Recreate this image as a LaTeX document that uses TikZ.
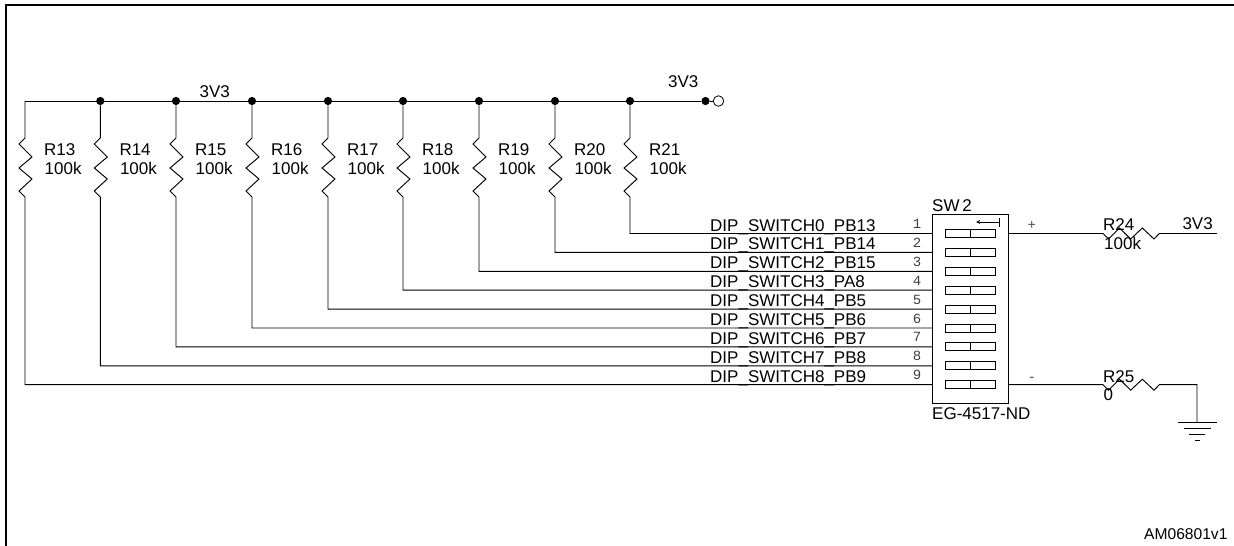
\documentclass[tikz,border=0pt]{standalone}
\usepackage{fontspec}
\setmainfont{Liberation Sans}
\newfontfamily\pinfont{Liberation Mono}
\tikzstyle{wire} = [draw,line width=0.95pt,line join=miter]
\tikzstyle{frameline} = [draw,line width=2pt]
\tikzstyle{junction} = [circle,fill=black,inner sep=0pt,minimum size=8.2pt]
\tikzstyle{openend} = [circle,draw,fill=white,line width=0.8pt,inner sep=0pt,minimum size=10.5pt]
\tikzstyle{label} = [inner sep=0pt,anchor=base west,font=\fontsize{17}{20}\selectfont]
\tikzstyle{pinnum} = [inner sep=0pt,anchor=base,text=black!75,font=\pinfont\fontsize{14}{16}\selectfont]
\tikzstyle{swbody} = [draw,line width=1.1pt,anchor=north west,inner sep=0pt,minimum width=76pt,minimum height=189pt]
\tikzstyle{lever} = [draw,line width=0.9pt]
\begin{document}
\begin{tikzpicture}[x=1pt,y=-1pt]
      \useasboundingbox (0,0) rectangle (1234,546);
      % frame
      \coordinate (fa) at (6,546);
      \coordinate (fb) at (6,5);
      \coordinate (fc) at (1234,5);
      \path[frameline] (fa) -- (fb) -- (fc);
      % switch
      \node[swbody] (sw) at (932,214) {};
      \node[label] (swname) at (932,211.5) {SW\,2};
      \node[label] (swtype) at (932,419) {EG-4517-ND};
      \foreach \pin/\y in {1/233.5, 2/252.4, 3/271.3, 4/290.2, 5/309.1, 6/328, 7/346.9, 8/365.8, 9/384.7}
      {
        \coordinate (pin\pin) at (sw.west |- 0,\y);
        \coordinate (la\pin) at (945,\y-4);
        \coordinate (lb\pin) at (995,\y+4);
        \coordinate (lc\pin) at (970,\y-4);
        \coordinate (ld\pin) at (970,\y+4);
        \path[lever] (la\pin) rectangle (lb\pin);
        \path[lever] (lc\pin) -- (ld\pin);
        \node[pinnum] (num\pin) at (917,\y-5) {\pin};
      };
      \coordinate (ara) at (999.5,222);
      \coordinate (arb) at (976,222);
      \coordinate (arc) at (999.5,218);
      \coordinate (ard) at (999.5,227);
      \path[lever,->,>=stealth] (ara) -- (arb);
      \path[lever] (arc) -- (ard);
      % resistors and bus
      \coordinate (buscorner) at (25,101);
      \node[junction] (j14) at (100.3,101) {};
      \node[junction] (j15) at (176,101) {};
      \node[junction] (j16) at (252,101) {};
      \node[junction] (j17) at (328,101) {};
      \node[junction] (j18) at (403,101) {};
      \node[junction] (j19) at (479,101) {};
      \node[junction] (j20) at (555,101) {};
      \node[junction] (j21) at (630,101) {};
      \node[junction] (jend) at (705.5,101) {};
      \node[openend] (vcc) at (718.5,101) {};
      \path[wire] (buscorner) -- (jend) -- (vcc);
      \node[label] (busname) at (199.5,97.5) {3V3};
      \node[label] (vccname) at (668,87.5) {3V3};
      \foreach \nodename/\x/\start/\pin/\netname in {
        13/25/buscorner/9/DIP\_SWITCH8\_PB9,
        14/100.3/j14/8/DIP\_SWITCH7\_PB8,
        15/176/j15/7/DIP\_SWITCH6\_PB7,
        16/252/j16/6/DIP\_SWITCH5\_PB6,
        17/328/j17/5/DIP\_SWITCH4\_PB5,
        18/403/j18/4/DIP\_SWITCH3\_PA8,
        19/479/j19/3/DIP\_SWITCH2\_PB15,
        20/555/j20/2/DIP\_SWITCH1\_PB14,
        21/630/j21/1/DIP\_SWITCH0\_PB13}
      {
        \coordinate (rt\nodename) at (\x,138);
        \coordinate (rb\nodename) at (\x,197);
        \coordinate (bend\nodename) at (\x,0 |- pin\pin);
        \path[wire] (\start) -- (rt\nodename) -- ++(-6,6) -- ++(13,13) -- ++(-13,11) -- ++(13,11) -- ++(-13,12) -- (rb\nodename) -- (bend\nodename) -- (pin\pin);
        \node[label] (name\nodename) at (\x+19,155) {R\nodename};
        \node[label] (val\nodename) at (\x+19.5,174.3) {100k};
        \node[label] (net\nodename) at (710,0 |- pin\pin) [yshift=2.5pt] {\netname};
      };
      % right side
      \coordinate (plus) at (sw.east |- pin1);
      \coordinate (minus) at (sw.east |- pin9);
      \coordinate (vout) at (1217,233.5);
      \coordinate (gndtop) at (1197,384.7);
      \coordinate (gnda) at (1197,422.3);
      \node[pinnum,text=black!70] (plusname) at (1031.7,229) {+};
      \node[pinnum,text=black!70] (minusname) at (1031.7,381) {-};
      \path[wire] (plus) -- (1103,233.5) -- ++(5.5,5.5) -- ++(11,-11) -- ++(11.2,11) -- ++(11.6,-11) -- ++(11.7,11) -- ++(5.3,-5.5) -- (vout);
      \path[wire] (minus) -- (1103,384.7) -- ++(5.5,5.5) -- ++(11,-11) -- ++(11.2,11) -- ++(11.6,-11) -- ++(11.7,11) -- ++(5.3,-5.5) -- (gndtop) -- (gnda);
      \node[label] (r24name) at (1103,230) {R24};
      \node[label] (r24val) at (1104,249.3) {100k};
      \node[label] (voutname) at (1182.3,229.3) {3V3};
      \node[label] (r25name) at (1103,382.3) {R25};
      \node[label] (r25val) at (1103.5,400.7) {0};
      % ground
      \foreach \y/\halfw in {422.3/19.4, 428.3/13.4, 434/8, 440/2.8}
      {
        \coordinate (gl) at (1197.3-\halfw,\y);
        \coordinate (gr) at (1197.3+\halfw,\y);
        \path[wire] (gl) -- (gr);
      };
      \node[label,font=\fontsize{15.6}{18}\selectfont] (figid) at (1144,539) {AM06801v1};
    \end{tikzpicture}
\end{document}
